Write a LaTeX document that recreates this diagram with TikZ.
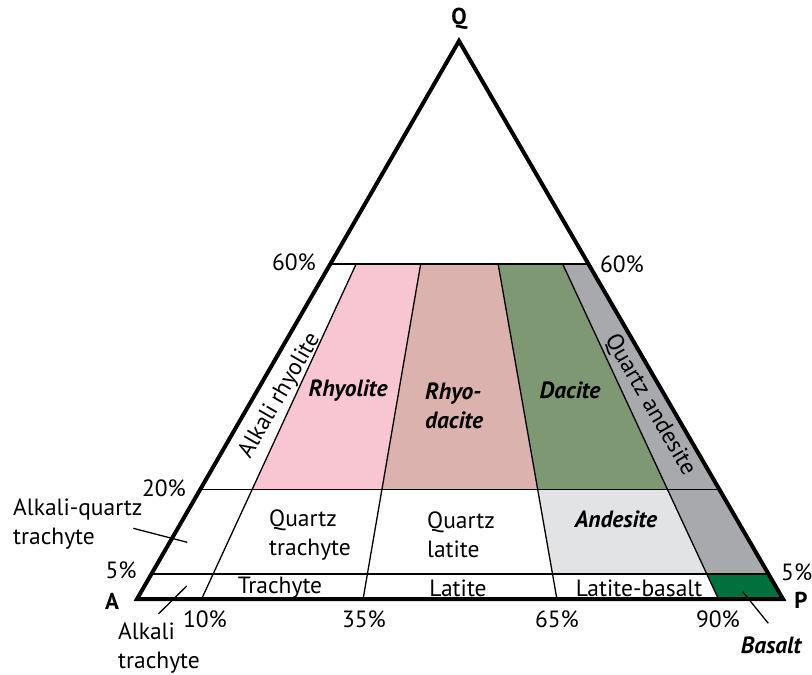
\documentclass[tikz,border=0pt]{standalone}
\usepackage{fontspec}
\setmainfont{PT Sans}
\usetikzlibrary{calc}
\definecolor{rhyo}{HTML}{F8C6D2}
\definecolor{rhyodac}{HTML}{DCB2AF}
\definecolor{dac}{HTML}{7F9874}
\definecolor{qand}{HTML}{A8A9AD}
\definecolor{ande}{HTML}{E2E3E5}
\definecolor{bas}{HTML}{00703C}
\begin{document}
\begin{tikzpicture}[x=1pt,y=-1pt,
  lbl/.style={font=\fontsize{23.5}{29.5}\selectfont, inner sep=0pt},
  blbl/.style={font=\fontsize{23.5}{29.5}\selectfont\bfseries\itshape, inner sep=0pt},
  vtx/.style={font=\fontsize{23}{26}\selectfont\bfseries, inner sep=0pt},
  thin/.style={line width=1.3pt, black},
  frame/.style={line width=4pt, line join=miter}]
\useasboundingbox (0,0) rectangle (812,675);
\coordinate (A) at (137,599);
\coordinate (P) at (783,599);
\coordinate (Q) at (459,41);
\coordinate (b10) at (201.6,599);
\coordinate (b35) at (363.1,599);
\coordinate (b65) at (556.9,599);
\coordinate (b90) at (718.4,599);
% points on divider lines
\foreach \n in {10,35,65,90}{
  \coordinate (t\n) at ($(Q)!0.39964!(b\n)$);
  \coordinate (m\n) at ($(Q)!0.80376!(b\n)$);
  \coordinate (l\n) at ($(Q)!0.95520!(b\n)$);
}
\coordinate (L60) at (330.9,264);
\coordinate (R60) at (589.1,264);
\coordinate (L20) at (200.4,489.5);
\coordinate (R20) at (719.6,489.5);
\coordinate (L5) at (151.5,574);
\coordinate (R5) at (768.5,574);
% fills
\fill[rhyo] (t10) -- (t35) -- (m35) -- (m10) -- cycle;
\fill[rhyodac] (t35) -- (t65) -- (m65) -- (m35) -- cycle;
\fill[dac] (t65) -- (t90) -- (m90) -- (m65) -- cycle;
\fill[ande] (m65) -- (m90) -- (l90) -- (l65) -- cycle;
\fill[qand] (t90) -- (R60) -- (R5) -- (l90) -- cycle;
\fill[bas] (l90) -- (R5) -- (P) -- (b90) -- cycle;
% inner lines
\draw[thin] (L60) -- (R60);
\draw[thin] (L20) -- (R20);
\draw[thin] (L5) -- (R5);
\foreach \n in {10,35,65,90}{\draw[thin] (t\n) -- (b\n);}
% frame
\draw[frame] (A) -- (P) -- (Q) -- cycle;
% vertices
\node[vtx] (nQ) at (459,19) {Q};
\node[vtx] (nA) at (112,601) {A};
\node[vtx] (nP) at (801,600) {P};
% percentages
\node[lbl] (p60l) at (294,262) {60\%};
\node[lbl] (p60r) at (622,264) {60\%};
\node[lbl] (p20) at (164,488) {20\%};
\node[lbl] (p5l) at (121,570) {5\%};
\node[lbl, anchor=west] (p5r) at (781,572) {5\%};
\node[lbl] (p10) at (205,619) {10\%};
\node[lbl] (p35) at (364,619) {35\%};
\node[lbl] (p65) at (557,619) {65\%};
\node[lbl] (p90) at (718,619) {90\%};
% field names
\node[lbl, align=left, anchor=west] (aqt) at (13,524) {Alkali-quartz\\trachyte};
\node[lbl, align=left, anchor=west] (at) at (118,648) {Alkali\\trachyte};
\node[blbl] (bas) at (771,645) {Basalt};
\node[lbl, align=left, anchor=west] (qt) at (269,535) {Quartz\\trachyte};
\node[lbl, align=left, anchor=west] (ql) at (427,535) {Quartz\\latite};
\node[lbl] (tr) at (280,588) {Trachyte};
\node[lbl] (la) at (458,588) {Latite};
\node[lbl] (lb) at (639,588) {Latite-basalt};
\node[blbl] (an) at (616,519) {Andesite};
\node[blbl] (rh) at (348,391) {Rhyolite};
\node[blbl, align=left, anchor=west] (rd) at (425,406) {Rhyo-\\dacite};
\node[blbl] (da) at (570,390) {Dacite};
\node[lbl, rotate=60] (ar) at (280,396) {Alkali rhyolite};
\node[lbl, rotate=-60] (qa) at (650,405) {Quartz andesite};
% pointers
\coordinate (aqtp) at (187.3,542.3);
\coordinate (atp) at (186.7,586);
\coordinate (basp) at (742.7,591.7);
\draw[thin] (133.3,528.3) -- (aqtp);
\draw[thin] (158.3,614) -- (atp);
\draw[thin] (768.3,623.3) -- (basp);
\end{tikzpicture}
\end{document}
